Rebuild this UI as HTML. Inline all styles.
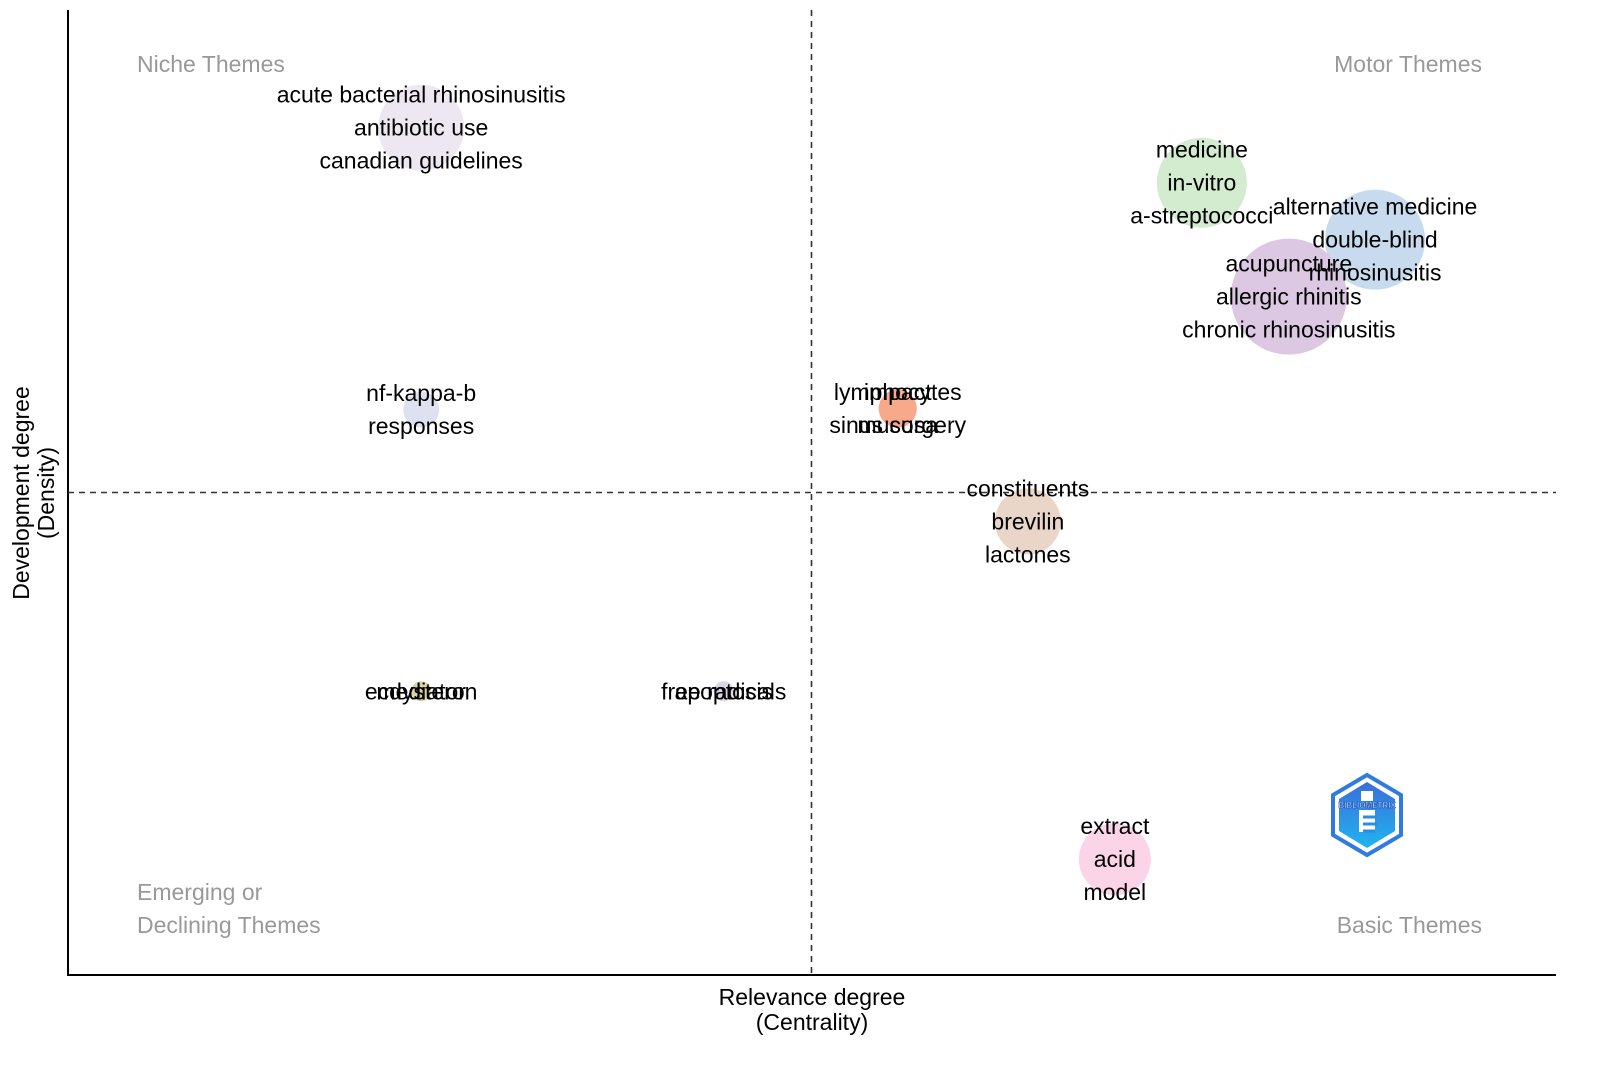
<!DOCTYPE html>
<html><head><meta charset="utf-8">
<style>
html,body{margin:0;padding:0;background:#fff;overflow:hidden;}
svg{display:block;font-family:"Liberation Sans",Arial,sans-serif;}
</style></head>
<body>
<svg id="chart" width="1600" height="1066" viewBox="0 0 1600 1066">
  <defs>
    <linearGradient id="lg" x1="0" y1="0" x2="0" y2="1">
      <stop offset="0" stop-color="#3a6fd8"/><stop offset="1" stop-color="#21b4f0"/>
    </linearGradient>
  </defs>
  <g id="axes">
    <line x1="68" y1="10" x2="68" y2="975" stroke="#000" stroke-width="2"/>
    <line x1="67" y1="975" x2="1556" y2="975" stroke="#000" stroke-width="2"/>
  </g>
  <g id="refs"></g>
  <g id="quads" fill="#999" font-size="23">
    <text x="137" y="72">Niche Themes</text>
    <text x="1482" y="72" text-anchor="end">Motor Themes</text>
    <text x="137" y="900">Emerging or</text>
    <text x="137" y="933">Declining Themes</text>
    <text x="1482" y="933" text-anchor="end">Basic Themes</text>
  </g>
  <g id="bubbles"></g>
  <g id="labels" font-size="23" fill="#000" text-anchor="middle"></g>
  <g font-size="23" text-anchor="middle">
    <text x="812" y="1005">Relevance degree</text>
    <text x="812" y="1030">(Centrality)</text>
  </g>
  <g font-size="23" text-anchor="middle">
    <text transform="translate(29,493) rotate(-90)">Development degree</text>
    <text transform="translate(54,493) rotate(-90)">(Density)</text>
  </g>
  <g transform="translate(1367,815)">
    <polygon points="0,-40 34,-20 34,20 0,40 -34,20 -34,-20" fill="#fff" stroke="#2f7be0" stroke-width="4"/>
    <polygon points="0,-33 28,-16 28,16 0,33 -28,16 -28,-16" fill="url(#lg)"/>
    <rect x="-6" y="-24" width="12" height="10" fill="#fff"/>
    <path d="M-8,-5 h16 v22 h-16z" fill="#fff"/>
    <path d="M-4,2 h14 M-4,9 h14 M-4,16 h12" stroke="#2a8be8" stroke-width="3"/>
    <text x="0" y="-7" font-size="8" font-weight="bold" fill="#fff" text-anchor="middle" stroke="#1d4fb8" stroke-width="0.6">BIBLIOMETRIX</text>
  </g>
</svg>
<script>
const clusterNames = ["acute bacterial rhinosinusitis","medicine","alternative medicine","acupuncture","nf-kappa-b","lymphocytes","impact","constituents","mediator","free radicals","extract"];
const centrality = [2.375, 7.625, 8.79, 8.21, 2.375, 5.58, 5.58, 6.455, 2.375, 4.41, 7.04];
const density = [8.78, 8.21, 7.62, 7.03, 5.86, 5.87, 5.87, 4.70, 2.94, 2.94, 1.20];
const bubbleSize = [43, 45, 50, 58, 18, 19, 19, 33, 10, 10, 36];
const bubbleColors = ["#ede7f1","#d3ebcf","#c8dbee","#dcc8e2","#dee2f0","#f8a98a","#f8a98a","#e9d6c8","#d9d4a2","#ddd6e7","#fbd4e7"];
const clusterLabels = [
  ["acute bacterial rhinosinusitis","antibiotic use","canadian guidelines"],
  ["medicine","in-vitro","a-streptococci"],
  ["alternative medicine","double-blind","rhinosinusitis"],
  ["acupuncture","allergic rhinitis","chronic rhinosinusitis"],
  ["nf-kappa-b","responses"],
  ["lymphocytes","sinus surgery"],
  ["impact","mucosa"],
  ["constituents","brevilin","lactones"],
  ["mediator","ecdysteron"],
  ["free radicals","apoptosis"],
  ["extract","acid","model"]
];
const stackedOnOneLine = [8, 9];
const refCentrality = 5, refDensity = 5;
const xScale = v => 68 + v * 148.7;
const yScale = v => 975 - v * 96.5;
const NS = "http://www.w3.org/2000/svg";
const refs = document.getElementById('refs');
const vl = document.createElementNS(NS,'line');


vl.setAttribute('x1',xScale(refCentrality));vl.setAttribute('x2',xScale(refCentrality));
vl.setAttribute('y1',10);vl.setAttribute('y2',975);
vl.setAttribute('stroke','#333');vl.setAttribute('stroke-width','1.6');vl.setAttribute('stroke-dasharray','6,5');
refs.appendChild(vl);
const hl = document.createElementNS(NS,'line');


hl.setAttribute('x1',68);hl.setAttribute('x2',1556);
hl.setAttribute('y1',yScale(refDensity));hl.setAttribute('y2',yScale(refDensity));
hl.setAttribute('stroke','#333');hl.setAttribute('stroke-width','1.6');hl.setAttribute('stroke-dasharray','6,5');
refs.appendChild(hl);
const bg = document.getElementById('bubbles'), lg = document.getElementById('labels');
clusterNames.forEach((n,i)=>{
  const cx = xScale(centrality[i]), cy = yScale(density[i]);
  const c = document.createElementNS(NS,'circle');
  
  
  c.setAttribute('cx',cx);c.setAttribute('cy',cy);c.setAttribute('r',bubbleSize[i]);
  c.setAttribute('fill',bubbleColors[i]);
  bg.appendChild(c);
  const words = clusterLabels[i];
  const oneLine = stackedOnOneLine.includes(i);
  words.forEach((w,k)=>{
    const off = oneLine ? 0 : k-(words.length-1)/2;
    const t = document.createElementNS(NS,'text');
    
    
    t.setAttribute('x',cx);
    t.setAttribute('y',cy + off*33 + 8);
    t.textContent = w;
    lg.appendChild(t);
  });
});
</script>
</body></html>
